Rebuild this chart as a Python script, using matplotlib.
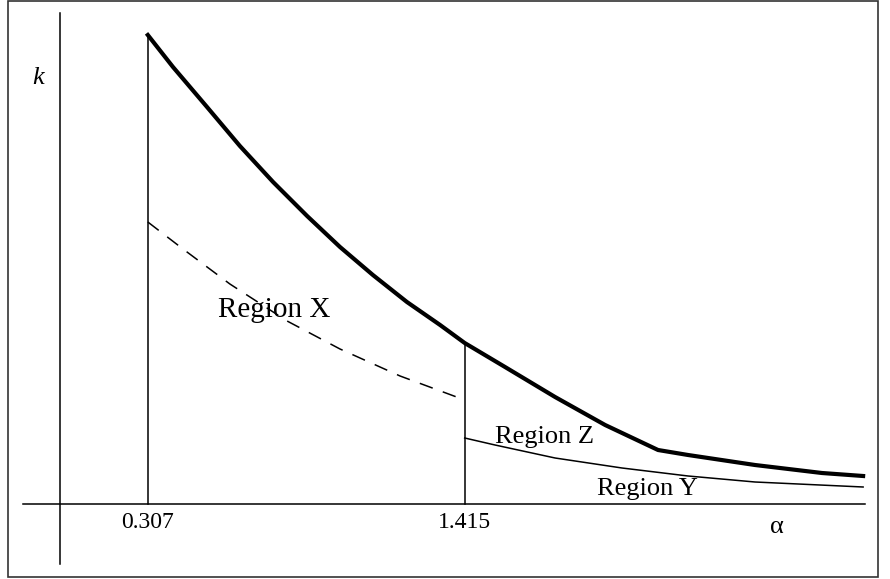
import matplotlib
matplotlib.use("Agg")
import matplotlib.pyplot as plt
from matplotlib.patches import Rectangle

plt.rcParams['font.family'] = ['Liberation Serif', 'DejaVu Serif']

# upper boundary (thick)
upper_a = [0.307, 0.395, 0.514, 0.629, 0.745, 0.864, 0.979, 1.094, 1.213, 1.329, 1.415,
           1.556, 1.731, 1.906, 2.091, 2.196, 2.430, 2.664, 2.808]
upper_k = [4.69, 4.37, 3.97, 3.58, 3.22, 2.88, 2.57, 2.29, 2.02, 1.79, 1.61,
           1.37, 1.07, 0.79, 0.54, 0.49, 0.39, 0.31, 0.28]

# dashed curve inside region X
dash_a = [0.307, 0.430, 0.594, 0.794, 0.979, 1.189, 1.415]
dash_k = [2.82, 2.55, 2.20, 1.83, 1.55, 1.28, 1.04]

# thin curve splitting Z and Y
lower_a = [1.415, 1.521, 1.731, 1.965, 2.196, 2.430, 2.808]
lower_k = [0.66, 0.59, 0.46, 0.36, 0.28, 0.22, 0.17]

tick_vals = [0.307, 1.415]
tick_labels = ["0.307", "1.415"]

fig = plt.figure(figsize=(8.9, 5.79), dpi=100)
ax = fig.add_axes([0, 0, 1, 1])
ax.set_xlim(-0.2098, 2.902)
ax.set_ylim(-0.75, 5.04)
ax.set_axis_off()

# axes
ax.plot([-0.129, 2.815], [0, 0], color='black', lw=1.1)
ax.plot([0, 0], [-0.60, 4.91], color='black', lw=1.1)

# vertical boundaries
ax.plot([tick_vals[0], tick_vals[0]], [0, upper_k[0]], color='black', lw=1.1)
ax.plot([tick_vals[1], tick_vals[1]], [0, upper_k[10]], color='black', lw=1.1)

ax.plot(upper_a, upper_k, color='black', lw=3, solid_joinstyle='round')
ax.plot(dash_a, dash_k, color='black', lw=1.1, linestyle=(0, (9, 7)))
ax.plot(lower_a, lower_k, color='black', lw=1.1)

for v, lab in zip(tick_vals, tick_labels):
    ax.text(v, -0.24, lab, ha='center', va='baseline', fontsize=17)

ax.text(0.552, 1.87, "Region X", ha='left', va='baseline', fontsize=21)
ax.text(1.521, 0.61, "Region Z", ha='left', va='baseline', fontsize=19)
ax.text(1.878, 0.09, "Region Y", ha='left', va='baseline', fontsize=19)
ax.text(-0.077, 4.20, "k", ha='center', va='baseline', fontsize=19, style='italic')
ax.text(2.507, -0.29, "α", ha='center', va='baseline', fontsize=19)

fig.patches.append(Rectangle((8 / 890, 2 / 579), 870 / 890, 576 / 579,
                             transform=fig.transFigure, fill=False,
                             lw=1.2, ec='#333333'))

fig.savefig("out.png", dpi=100)
